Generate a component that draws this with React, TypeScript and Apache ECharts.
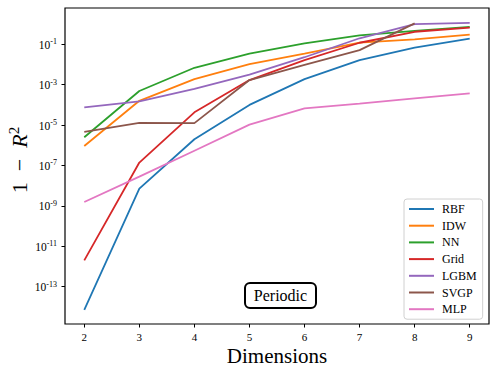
import React, { useEffect, useRef } from "react";
import * as echarts from "echarts";

const dims = [2, 3, 4, 5, 6, 7, 8, 9];
const seriesNames = ["RBF", "IDW", "NN", "Grid", "LGBM", "SVGP", "MLP"];
const colors = ["#1f77b4", "#ff7f0e", "#2ca02c", "#d62728", "#9467bd", "#8c564b", "#e377c2"];

const rbf = [7.1e-15, 7.1e-9, 2.0e-6, 1.0e-4, 1.9e-3, 1.66e-2, 6.8e-2, 0.19];
const idw = [9.3e-7, 1.6e-4, 1.9e-3, 1.05e-2, 3.5e-2, 0.123, 0.178, 0.3];
const nn = [2.5e-6, 4.9e-4, 6.9e-3, 3.5e-2, 0.112, 0.28, 0.47, 0.74];
const grid = [2.0e-12, 1.4e-7, 4.3e-5, 1.7e-3, 1.66e-2, 0.12, 0.42, 0.68];
const lgbm = [7.6e-5, 1.5e-4, 6.2e-4, 3.2e-3, 2.3e-2, 0.2, 1.0, 1.17];
const svgp = [4.6e-6, 1.3e-5, 1.26e-5, 1.7e-3, 9.5e-3, 5.2e-2, 1.1];
const mlp = [1.55e-9, 2.8e-8, 5.4e-7, 1.05e-5, 6.8e-5, 1.15e-4, 2.1e-4, 3.7e-4];

const allSeries = [rbf, idw, nn, grid, lgbm, svgp, mlp];
const yTicks = [1e-13, 1e-11, 1e-9, 1e-7, 1e-5, 1e-3, 1e-1];
const annotation = "Periodic";

const FONT = "Liberation Serif";

export default function App() {
  const ref = useRef<HTMLDivElement>(null);
  useEffect(() => {
    if (!ref.current) return;
    const chart = echarts.init(ref.current, undefined, { renderer: "svg" });
    const option: any = {
      animation: false,
      backgroundColor: "#fff",
      grid: {
        left: 65,
        top: 8,
        right: 9,
        bottom: 51,
        show: true,
        borderColor: "#000",
        borderWidth: 1.2,
        backgroundColor: "transparent",
      },
      xAxis: {
        type: "value",
        min: 1.65,
        max: 9.35,
        axisLine: { show: false },
        splitLine: { show: false },
        axisTick: { show: true, length: 3.5, lineStyle: { color: "#000", width: 1 }, customValues: dims },
        axisLabel: {
          customValues: dims,
          fontFamily: FONT,
          fontSize: 11,
          color: "#000",
          margin: 7,
        },
      },
      yAxis: {
        type: "log",
        logBase: 10,
        min: Math.pow(10, -14.85),
        max: Math.pow(10, 0.8),
        axisLine: { show: false },
        splitLine: { show: false },
        axisTick: { show: true, length: 3.5, lineStyle: { color: "#000", width: 1 }, customValues: yTicks },
        axisLabel: {
          customValues: yTicks,
          margin: 8,
          formatter: (v: number) => {
            const e = Math.round(Math.log10(v));
            return `{b|10}{s|${e}}`;
          },
          rich: {
            b: { fontFamily: FONT, fontSize: 11.5, color: "#000", verticalAlign: "bottom", lineHeight: 13 },
            s: { fontFamily: FONT, fontSize: 8, color: "#000", verticalAlign: "top", lineHeight: 13 },
          },
        },
      },
      legend: {
        orient: "vertical",
        left: 404,
        top: 199,
        backgroundColor: "#fff",
        borderColor: "#d0d0d0",
        borderWidth: 1,
        borderRadius: 3,
        padding: [4, 6, 4, 5],
        icon: "rect",
        itemWidth: 25,
        itemHeight: 2,
        itemGap: 4.7,
        textStyle: { fontFamily: FONT, fontSize: 12, lineHeight: 12, color: "#000", padding: [0, 0, 0, 3] },
        data: seriesNames,
      },
      graphic: [
        {
          type: "group",
          left: 244,
          top: 282,
          children: [
            {
              type: "rect",
              shape: { x: 0, y: 0, width: 71, height: 25, r: 5 },
              style: { fill: "#fff", stroke: "#000", lineWidth: 2 },
            },
            {
              type: "text",
              x: 35.5,
              y: 12.5,
              style: {
                text: annotation,
                fontFamily: FONT,
                fontSize: 16,
                fill: "#000",
                align: "center",
                verticalAlign: "middle",
              },
            },
          ],
        },
        {
          type: "text",
          x: 277,
          y: 356,
          style: {
            text: "Dimensions",
            fontFamily: FONT,
            fontSize: 21,
            fill: "#000",
            align: "center",
            verticalAlign: "middle",
          },
        },
        {
          type: "text",
          x: 18,
          y: 160,
          rotation: Math.PI / 2,
          style: {
            text: "{n|1  \u2212  }{i|R}{s|2}",
            align: "center",
            verticalAlign: "middle",
            rich: {
              n: { fontFamily: FONT, fontSize: 22, fill: "#000", verticalAlign: "bottom", lineHeight: 24 },
              i: { fontFamily: FONT, fontSize: 22, fontStyle: "italic", fill: "#000", verticalAlign: "bottom", lineHeight: 24 },
              s: { fontFamily: FONT, fontSize: 15, fill: "#000", verticalAlign: "top", lineHeight: 24 },
            },
          },
        },
      ],
      series: allSeries.map((vals, i) => ({
        name: seriesNames[i],
        type: "line",
        symbol: "none",
        showSymbol: false,
        color: colors[i],
        itemStyle: { color: colors[i] },
        lineStyle: { color: colors[i], width: 1.8 },
        data: vals.map((v, j) => [dims[j], v]),
        z: 2,
      })),
    };
    chart.setOption(option);
    return () => chart.dispose();
  }, []);
  return (
    <div
      ref={ref}
      style={{ position: "fixed", left: 0, top: 0, width: 498, height: 375 }}
    />
  );
}
